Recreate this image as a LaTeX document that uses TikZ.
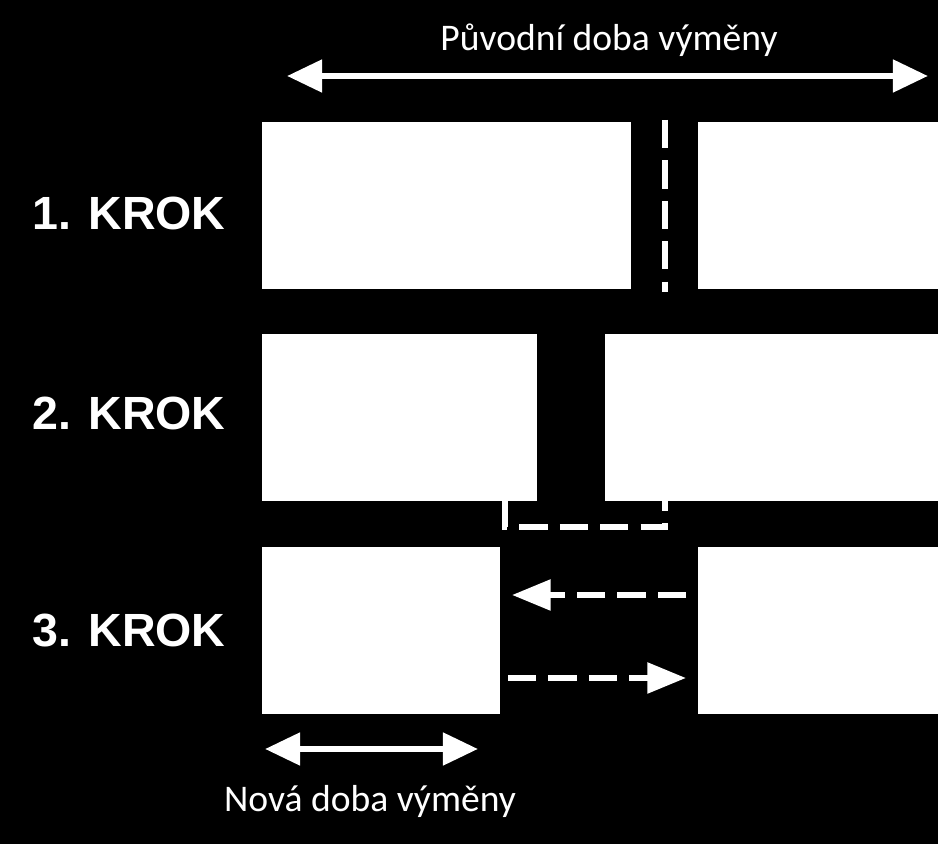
\documentclass[tikz,border=0pt]{standalone}
\usepackage{fontspec}
\setmainfont{Carlito}
\newfontfamily\krokfont{Liberation Sans}
\usetikzlibrary{positioning,arrows.meta}

\begin{document}
\begin{tikzpicture}[x=0.02cm,y=-0.02cm,
    blok/.style={fill=white,inner sep=0pt,anchor=north west,minimum height=3.34cm},
    krok/.style={text=white,font=\krokfont\bfseries\fontsize{26.5}{30}\selectfont},
    popis/.style={text=white,font=\fontsize{21.4}{25}\selectfont},
    dvojsipka/.style={white,line width=3.6pt,{Triangle[length=20pt,width=18pt]}-{Triangle[length=20pt,width=18pt]}},
    carkovane/.style={white,line width=3.4pt,dash pattern=on 16pt off 7pt},
    sipka/.style={carkovane,-{Triangle[length=22pt,width=17pt]}}]

    % pozadi
    \fill[black] (0,0) rectangle (938,844);
    \useasboundingbox (0,0) rectangle (938,844);

    % bloky
    \node[blok,minimum width=7.38cm] (r1a) at (262,122) {};
    \node[blok,minimum width=4.80cm] (r1b) at (698,122) {};
    \node[blok,minimum width=5.50cm] (r2a) at (262,334) {};
    \node[blok,minimum width=6.66cm] (r2b) at (605,334) {};
    \node[blok,minimum width=4.76cm] (r3a) at (262,547) {};
    \node[blok,minimum width=4.80cm] (r3b) at (698,547) {};

    % popisky
    \node[krok] (k1) at (129,213) {1. KROK};
    \node[krok] (k2) at (129,413) {2. KROK};
    \node[krok] (k3) at (129,631) {3. KROK};
    \node[popis] (puvodni) at (609,40) {Původní doba výměny};
    \node[popis] (nova) at (370,801) {Nová doba výměny};

    % body
    \coordinate (pa) at (287,76);
    \coordinate (pb) at (928,76);
    \coordinate (na) at (265,749);
    \coordinate (nb) at (478,749);
    \coordinate (d1a) at (665,120);
    \coordinate (d1b) at (665,292);
    \coordinate (d2a) at (505,501);
    \coordinate (d2b) at (505,527);
    \coordinate (d2c) at (665,527);
    \coordinate (d2d) at (665,501);
    \coordinate (s1a) at (686,595);
    \coordinate (s1b) at (512,595);
    \coordinate (s2a) at (508,678);
    \coordinate (s2b) at (686,678);

    % sipky
    \draw[dvojsipka] (pa) -- (pb);
    \draw[dvojsipka] (na) -- (nb);
    \draw[carkovane] (d1a) -- (d1b);
    \draw[carkovane] (d2a) -- (d2b) -- (d2c) -- (d2d);
    \draw[sipka] (s1a) -- (s1b);
    \draw[sipka] (s2a) -- (s2b);

\end{tikzpicture}
\end{document}
